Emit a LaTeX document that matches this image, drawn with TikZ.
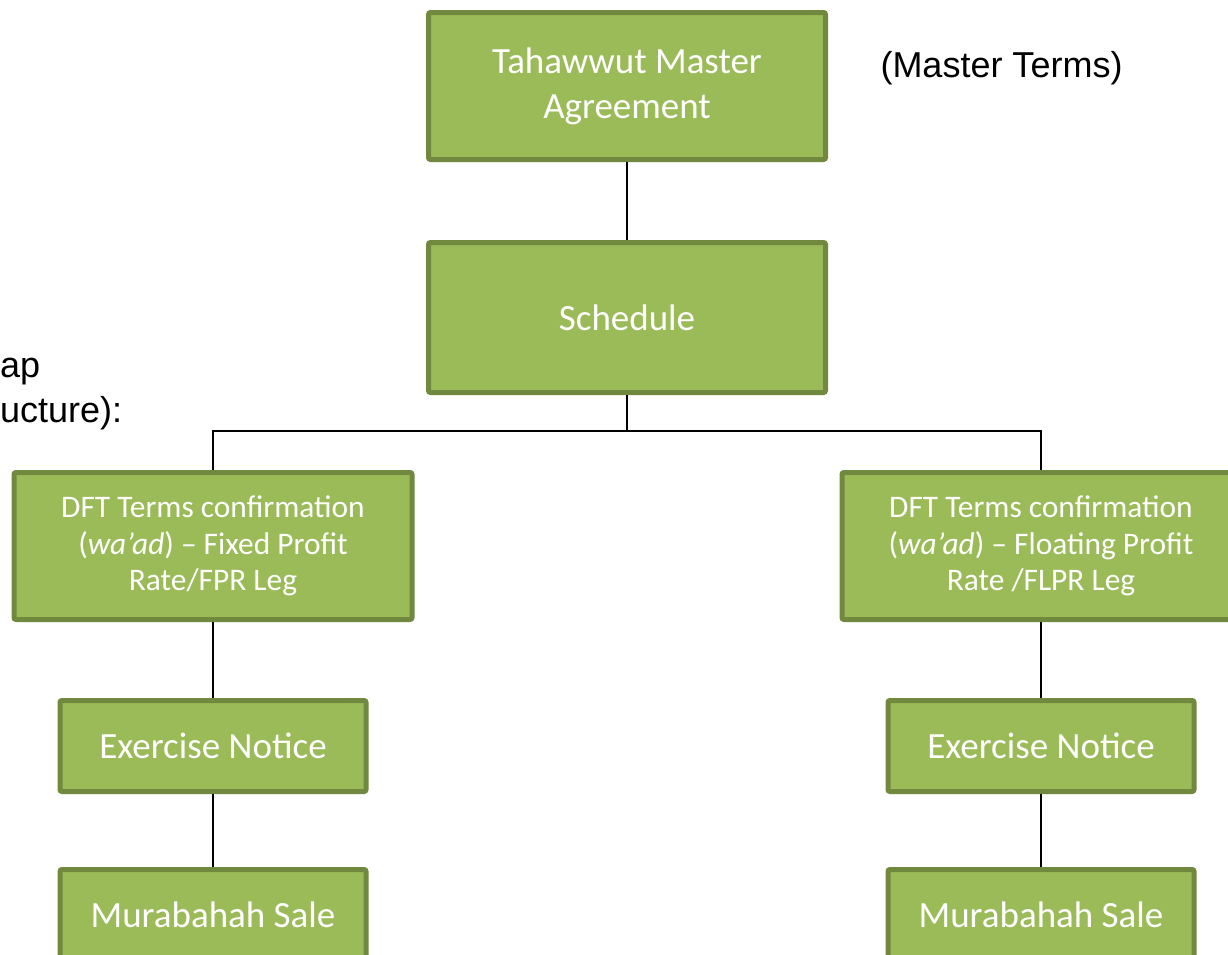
\documentclass[tikz,border=0pt]{standalone}
\usepackage{fontspec}
\setmainfont{Carlito}
\newfontfamily\arialf{Liberation Sans}
\definecolor{boxfill}{HTML}{9BBB59}
\definecolor{boxline}{HTML}{71893F}
\begin{document}
\begin{tikzpicture}[x=1pt,y=-1pt,
  gbox/.style={draw=boxline,fill=boxfill,line width=5pt,rounded corners=2pt,
    text=white,align=center,inner sep=0pt},
  bigtxt/.style={font=\fontsize{37}{45}\selectfont},
  midtxt/.style={font=\fontsize{31.4}{36.5}\selectfont},
  conn/.style={draw=black,line width=1.5pt},
  plain/.style={font=\arialf\fontsize{36}{45}\selectfont,text=black,inner sep=0pt}]
\useasboundingbox[fill=white] (0,0) rectangle (1228,954);

\node[gbox,bigtxt,minimum width=397pt,minimum height=147pt] (master) at (627,86) {Tahawwut Master\\Agreement};
\node[gbox,bigtxt,minimum width=397pt,minimum height=150pt] (sched) at (627,317.5) {Schedule};
\node[gbox,midtxt,minimum width=398pt,minimum height=147pt] (dftL) at (213,546) {DFT Terms confirmation\\(\textit{wa’ad}) – Fixed Profit\\Rate/FPR Leg};
\node[gbox,midtxt,minimum width=398pt,minimum height=147pt] (dftR) at (1041,546) {DFT Terms confirmation\\(\textit{wa’ad}) – Floating Profit\\Rate /FLPR Leg};
\node[gbox,bigtxt,minimum width=306pt,minimum height=91pt] (exL) at (213,746) {Exercise Notice};
\node[gbox,bigtxt,minimum width=306pt,minimum height=91pt] (exR) at (1041,746) {Exercise Notice};
\node[gbox,bigtxt,minimum width=306pt,minimum height=91pt] (murL) at (213,915) {Murabahah Sale};
\node[gbox,bigtxt,minimum width=306pt,minimum height=91pt] (murR) at (1041,915) {Murabahah Sale};

\node[plain,anchor=center] (mterms) at (1001.5,68) {(Master Terms)};
\node[plain,anchor=base west] (lt1) at (0,377) {ap};
\node[plain,anchor=base west] (lt2) at (0,422) {ucture):};

\coordinate (split) at (627,431);
\path[conn] (master.south) -- (sched.north);
\path[conn] (sched.south) -- (split);
\path[conn] (split) -| (dftL.north);
\path[conn] (split) -| (dftR.north);
\path[conn] (dftL.south) -- (exL.north);
\path[conn] (exL.south) -- (murL.north);
\path[conn] (dftR.south) -- (exR.north);
\path[conn] (exR.south) -- (murR.north);
\end{tikzpicture}
\end{document}
